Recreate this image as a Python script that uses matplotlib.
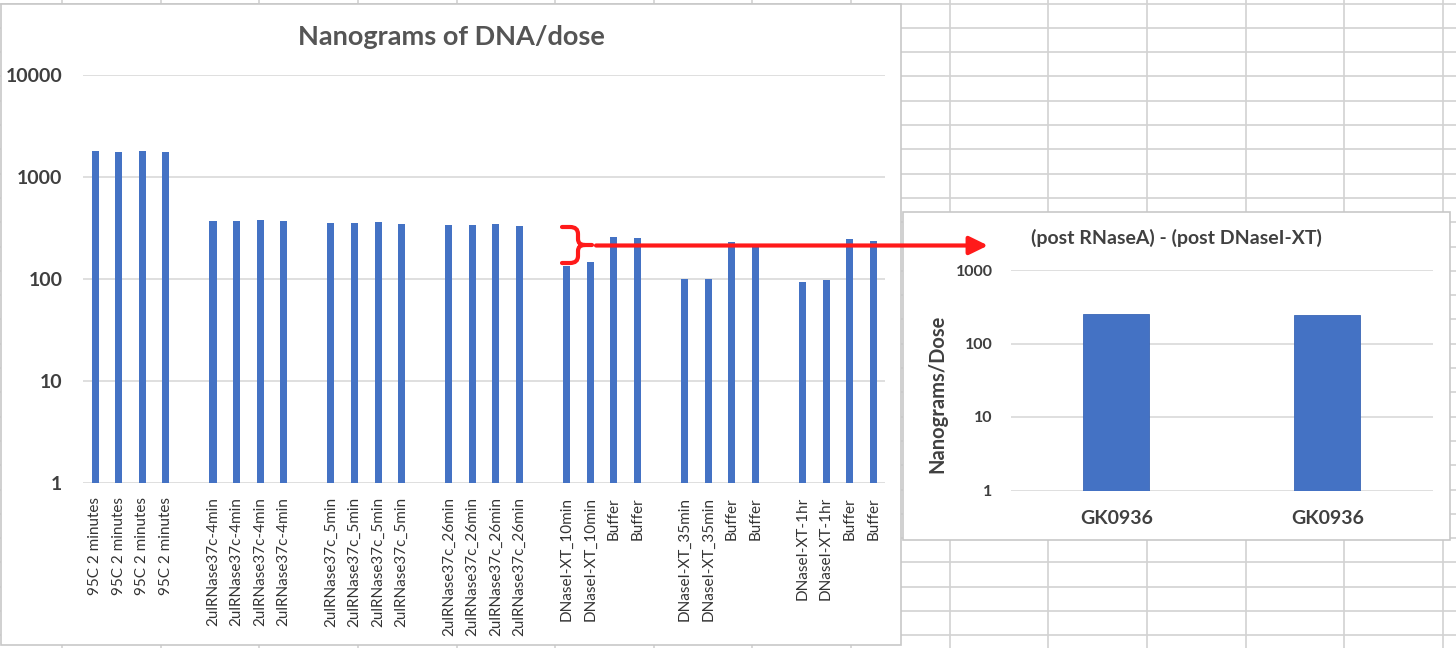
import matplotlib
matplotlib.use('Agg')
import matplotlib.pyplot as plt
from matplotlib.lines import Line2D
from matplotlib.patches import Rectangle, PathPatch, FancyArrowPatch
from matplotlib.path import Path
from matplotlib.ticker import FixedLocator, NullLocator

W, H = 1456, 648

# main chart: one empty slot between groups (None)
categories = (['95C 2 minutes'] * 4 + [''] +
              ['2ulRNase37c-4min'] * 4 + [''] +
              ['2ulRNase37c_5min'] * 4 + [''] +
              ['2ulRNase37c_26min'] * 4 + [''] +
              ['DNaseI-XT_10min'] * 2 + ['Buffer'] * 2 + [''] +
              ['DNaseI-XT_35min'] * 2 + ['Buffer'] * 2 + [''] +
              ['DNaseI-XT-1hr'] * 2 + ['Buffer'] * 2)
ng_per_dose = ([1800, 1760, 1800, 1760, None,
                373, 373, 379, 373, None,
                354, 354, 360, 346, None,
                338, 336, 343, 331, None,
                134, 148, 258, 251, None,
                101, 101, 230, 210, None,
                93, 98, 247, 234])
main_ticks = [1, 10, 100, 1000, 10000]

inset_categories = ['GK0936', 'GK0936']
inset_values = [249, 242]
inset_ticks = [1, 10, 100, 1000]

BLUE = '#4472C4'
FONT = 'Lato'
plt.rcParams['font.family'] = [FONT, 'DejaVu Sans']


def fx(x):
    return x / W


def fy(y):
    return 1 - y / H


fig = plt.figure(figsize=(W / 100, H / 100), dpi=100)
fig.patch.set_facecolor('white')

# spreadsheet grid behind the charts
for k in range(27):
    y = 3.5 + 24.3 * k
    fig.add_artist(Line2D([0, 1], [fy(y), fy(y)], transform=fig.transFigure,
                          color='#d2d2d2', lw=1.2, zorder=0))
for k in range(15):
    x = 62 + 98.64 * k
    fig.add_artist(Line2D([fx(x), fx(x)], [0, 1], transform=fig.transFigure,
                          color='#d2d2d2', lw=1.2, zorder=0))

# chart boxes
for (x0, y0, x1, y1) in [(0.5, 4, 901, 645), (903, 212, 1450, 539.5)]:
    fig.add_artist(Rectangle((fx(x0), fy(y1)), fx(x1) - fx(x0), fy(y0) - fy(y1),
                             transform=fig.transFigure, facecolor='white',
                             edgecolor='#c8c8c8', lw=1.2, zorder=1))

# ---- main chart ----
ax = fig.add_axes([fx(83.3), fy(483), fx(885) - fx(83.3), fy(75) - fy(483)])
ax.set_zorder(2)
ax.patch.set_alpha(0)
pos = [i for i, v in enumerate(ng_per_dose) if v is not None]
vals = [v for v in ng_per_dose if v is not None]
ax.bar(pos, vals, width=0.3, color=BLUE, zorder=3)
ax.set_yscale('log')
ax.set_ylim(1, 10000)
ax.set_xlim(-0.5, len(categories) - 0.5)
ax.yaxis.set_major_locator(FixedLocator(main_ticks))
ax.yaxis.set_minor_locator(NullLocator())
ax.set_yticklabels([str(t) for t in main_ticks])
ax.set_xticks(range(len(categories)))
ax.set_xticklabels(categories, rotation=90, va='top', ha='center')
ax.grid(axis='y', color='#d9d9d9', lw=1.2, zorder=0)
for s in ax.spines.values():
    s.set_visible(False)
ax.tick_params(axis='both', length=0)
ax.tick_params(axis='y', pad=15, labelsize=14, labelcolor='#3f3f3f')
ax.tick_params(axis='x', pad=10, labelsize=11, labelcolor='#333333')
for t in ax.get_yticklabels():
    t.set_fontweight('bold')
fig.text(fx(451), fy(37), 'Nanograms of DNA/dose', ha='center', va='center',
         fontsize=19.5, fontweight='bold', color='#555555', zorder=3)

# ---- inset chart ----
ax2 = fig.add_axes([fx(1010.7), fy(490.5), fx(1432.7) - fx(1010.7), fy(270) - fy(490.5)])
ax2.set_zorder(2)
ax2.patch.set_alpha(0)
ax2.bar(range(len(inset_values)), inset_values, width=0.31, color=BLUE,
        edgecolor='#3a66b5', lw=0.6, zorder=3)
ax2.set_yscale('log')
ax2.set_ylim(1, 1000)
ax2.set_xlim(-0.5, len(inset_values) - 0.5)
ax2.yaxis.set_major_locator(FixedLocator(inset_ticks))
ax2.yaxis.set_minor_locator(NullLocator())
ax2.set_yticklabels([str(t) for t in inset_ticks])
ax2.set_xticks(range(len(inset_categories)))
ax2.set_xticklabels(inset_categories)
ax2.grid(axis='y', color='#d9d9d9', lw=1.2, zorder=0)
for s in ax2.spines.values():
    s.set_visible(False)
ax2.tick_params(axis='both', length=0)
ax2.tick_params(axis='y', pad=13, labelsize=11.5, labelcolor='#3f3f3f')
ax2.tick_params(axis='x', pad=14, labelsize=14, labelcolor='#404040')
for t in ax2.get_yticklabels() + ax2.get_xticklabels():
    t.set_fontweight('bold')
fig.text(fx(1176), fy(238), '(post RNaseA) - (post DNaseI-XT)', ha='center',
         va='center', fontsize=14, fontweight='bold', color='#404040', zorder=3)
fig.text(fx(937), fy(394), 'Nanograms/Dose', ha='center', va='center',
         rotation=90, fontsize=14.5, fontweight='bold', color='#404040', zorder=3)

# ---- red bracket and arrow ----
pts = [(562, 227), (570, 227), (578, 227), (578, 234), (578, 239), (578, 245),
       (585, 245), (592, 245), (585, 245), (578, 245), (578, 251), (578, 256),
       (578, 263), (570, 263), (562, 263)]
codes = [Path.MOVETO, Path.LINETO, Path.CURVE3, Path.CURVE3, Path.LINETO,
         Path.CURVE3, Path.CURVE3, Path.LINETO, Path.MOVETO, Path.CURVE3,
         Path.CURVE3, Path.LINETO, Path.CURVE3, Path.CURVE3, Path.LINETO]
bracket = Path([(fx(x), fy(y)) for x, y in pts], codes)
fig.add_artist(PathPatch(bracket, transform=fig.transFigure, facecolor='none',
                         edgecolor='#ff1a1a', lw=3, capstyle='round', zorder=5))
fig.add_artist(FancyArrowPatch((fx(596), fy(245.5)), (fx(988), fy(245.5)),
                               transform=fig.transFigure,
                               arrowstyle='-|>,head_length=0.45,head_width=0.22',
                               mutation_scale=25, lw=3, color='#ff1a1a',
                               shrinkA=0, shrinkB=0, zorder=5))

fig.savefig('out.png', dpi=100, facecolor='white')
